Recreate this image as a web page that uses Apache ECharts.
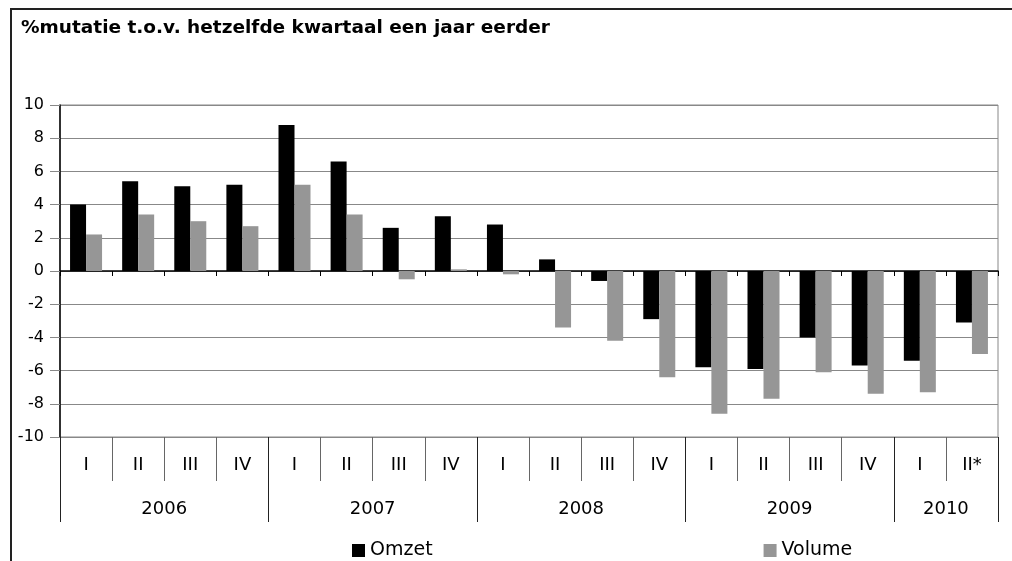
<!DOCTYPE html>
<html>
<head>
<meta charset="utf-8">
<script src="https://cdn.jsdelivr.net/npm/echarts@6/dist/echarts.min.js"></script>
<style>
html,body{margin:0;padding:0;background:#fff;}
#chart{width:1012px;height:561px;}
</style>
</head>
<body>
<div id="chart"></div>
<script>
var titleText = '%mutatie t.o.v. hetzelfde kwartaal een jaar eerder';
var quarters = ['I','II','III','IV','I','II','III','IV','I','II','III','IV','I','II','III','IV','I','II*'];
var years = ['2006','2007','2008','2009','2010'];
var quartersPerYear = [4,4,4,4,2];
var omzet  = [4.0, 5.4, 5.1, 5.2, 8.8, 6.6, 2.6, 3.3, 2.8, 0.7, -0.6, -2.9, -5.8, -5.9, -4.0, -5.7, -5.4, -3.1];
var volume = [2.2, 3.4, 3.0, 2.7, 5.2, 3.4, -0.5, 0.1, -0.2, -3.4, -4.2, -6.4, -8.6, -7.7, -6.1, -7.4, -7.3, -5.0];
var yTicks = {min: -10, max: 10, interval: 2};

// half-quarter points for the year row (boundaries and centres)
var halfPoints = [];
var yearBoundaryIdx = {0: true};
var yearCenterIdx = {};
(function () {
  var n = quarters.length * 2 + 1;
  for (var i = 0; i < n; i++) halfPoints.push('');
  var pos = 0;
  for (var k = 0; k < years.length; k++) {
    var span = quartersPerYear[k] * 2;
    yearCenterIdx[pos + span / 2] = true;
    halfPoints[pos + span / 2] = years[k];
    pos += span;
    yearBoundaryIdx[pos] = true;
  }
})();

var FONT = 'DejaVu Sans';
var chart = echarts.init(document.getElementById('chart'), null, {renderer: 'canvas'});
chart.setOption({
  animation: false,
  backgroundColor: '#fff',
  textStyle: {fontFamily: FONT, color: '#000'},
  title: {
    text: titleText,
    left: 16, top: 14,
    textStyle: {fontFamily: FONT, fontWeight: 'bold', fontSize: 18.5, color: '#000'}
  },
  legend: {
    data: ['Omzet', 'Volume'],
    left: 352, top: 541, padding: 0,
    itemWidth: 13, itemHeight: 13, itemGap: 331,
    icon: 'rect',
    textStyle: {fontFamily: FONT, fontSize: 19, color: '#000'},
    selectedMode: false
  },
  grid: {
    left: 60, right: 14, top: 105, bottom: 124,
    show: true, borderColor: '#888', borderWidth: 1
  },
  xAxis: [
    {
      type: 'category', data: quarters,
      axisLine: {show: true, onZero: true, lineStyle: {color: '#000', width: 1.5}},
      axisTick: {show: true, length: 5, lineStyle: {color: '#000'}},
      axisLabel: {show: false},
      splitLine: {show: false}
    },
    {
      type: 'category', data: quarters, position: 'bottom',
      axisLine: {show: false, onZero: false},
      axisTick: {show: true, length: 44, lineStyle: {color: '#666'}},
      axisLabel: {show: true, interval: 0, margin: 19, fontSize: 18, fontFamily: FONT, color: '#000'},
      splitLine: {show: false}
    },
    {
      type: 'category', data: halfPoints, position: 'bottom', boundaryGap: false,
      axisLine: {show: false, onZero: false},
      axisTick: {show: true, length: 85, lineStyle: {color: '#222'},
        interval: function (idx) { return !!yearBoundaryIdx[idx]; }},
      axisLabel: {show: true, margin: 63, fontSize: 18, fontFamily: FONT, color: '#000',
        interval: function (idx) { return !!yearCenterIdx[idx]; }},
      splitLine: {show: false}
    }
  ],
  yAxis: {
    type: 'value', min: yTicks.min, max: yTicks.max, interval: yTicks.interval,
    axisLine: {show: true, lineStyle: {color: '#000', width: 1.5}},
    axisTick: {show: true, length: 10, lineStyle: {color: '#888'}},
    axisLabel: {margin: 16, fontSize: 16, fontFamily: FONT, color: '#000'},
    splitLine: {show: true, lineStyle: {color: '#888', width: 1}}
  },
  series: [
    {name: 'Omzet', type: 'bar', data: omzet, barWidth: 16, barGap: '0%',
      itemStyle: {color: '#000'}, xAxisIndex: 0},
    {name: 'Volume', type: 'bar', data: volume, barWidth: 16, barGap: '0%',
      itemStyle: {color: '#969696'}, xAxisIndex: 0}
  ],
  graphic: [
    {type: 'line', shape: {x1: 11, y1: 9, x2: 11, y2: 561}, style: {stroke: '#222', lineWidth: 2}},
    {type: 'line', shape: {x1: 10, y1: 9, x2: 1012, y2: 9}, style: {stroke: '#222', lineWidth: 2}}
  ]
});
</script>
</body>
</html>
